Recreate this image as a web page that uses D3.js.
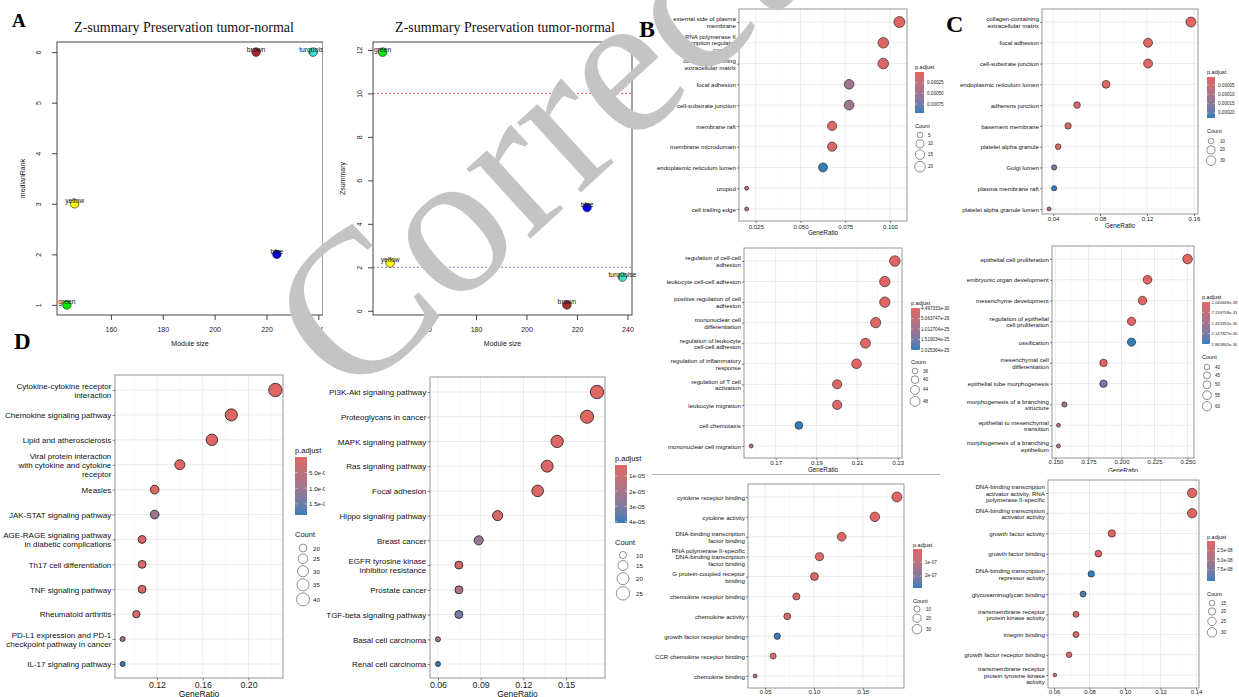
<!DOCTYPE html>
<html><head><meta charset="utf-8">
<script src="https://cdn.jsdelivr.net/npm/d3@7"></script>
<style>body{margin:0;background:#fff}svg{display:block}</style>
</head><body>
<svg id="fig" width="1239" height="697"></svg>
<script>
// ================= DATA =================
// Panel A : module preservation
const moduleNames = ["green", "yellow", "brown", "blue", "turquoise"];
const moduleSize = [143, 146, 216, 224, 238];
const medianRank = [1, 3, 6, 2, 6];
const zSummary = [11.9, 2.2, 0.27, 4.75, 1.55];
const moduleSizeTicks = [160, 180, 200, 220, 240];
const medianRankTicks = [1, 2, 3, 4, 5, 6];
const zSummaryTicks = [0, 2, 4, 6, 8, 10, 12];
const zThresholds = [10, 2];

// Panel B top : GO cellular component
const bTopTerms = ["external side of plasma\nmembrane", "RNA polymerase II\ntranscription regulator\ncomplex", "collagen-containing\nextracellular matrix", "focal adhesion", "cell-substrate junction", "membrane raft", "membrane microdomain", "endoplasmic reticulum lumen", "uropod", "cell trailing edge"];
const bTopRatio = [0.1053, 0.0963, 0.0963, 0.0772, 0.0772, 0.0677, 0.0677, 0.0626, 0.0199, 0.0199];
const bTopCount = [22, 20, 20, 16, 16, 14, 14, 13, 4, 4];
const bTopPadj = [1e-6, 2e-5, 3e-5, 4.8e-4, 4.9e-4, 6e-5, 7e-5, 9.6e-4, 3.5e-4, 3.5e-4];
const bTopXTicks = [0.025, 0.050, 0.075, 0.100];
const bTopPTicks = [0.00025, 0.00050, 0.00075];
const bTopCountTicks = [5, 10, 15, 20];

// Panel C top
const cTopTerms = ["collagen-containing\nextracellular matrix", "focal adhesion", "cell-substrate junction", "endoplasmic reticulum lumen", "adherens junction", "basement membrane", "platelet alpha granule", "Golgi lumen", "plasma membrane raft", "platelet alpha granule lumen"];
const cTopRatio = [0.1574, 0.1209, 0.1209, 0.0851, 0.0604, 0.0528, 0.0443, 0.0409, 0.0409, 0.0366];
const cTopCount = [34, 26, 26, 19, 13, 12, 10, 9, 9, 8];
const cTopPadj = [7e-6, 1e-5, 1.2e-5, 1.5e-5, 1.8e-5, 2.2e-5, 2.5e-5, 1.65e-4, 2.27e-4, 8e-5];
const cTopXTicks = [0.04, 0.08, 0.12, 0.16];
const cTopPTicks = [0.00005, 0.00010, 0.00015, 0.00020];
const cTopCountTicks = [10, 20, 30];

// Panel B middle : GO biological process
const bMidTerms = ["regulation of cell-cell\nadhesion", "leukocyte cell-cell adhesion", "positive regulation of cell\nadhesion", "mononuclear cell\ndifferentiation", "regulation of leukocyte\ncell-cell adhesion", "regulation of inflammatory\nresponse", "regulation of T cell\nactivation", "leukocyte migration", "cell chemotaxis", "mononuclear cell migration"];
const bMidRatio = [0.2285, 0.2236, 0.2236, 0.2191, 0.2141, 0.2097, 0.2002, 0.2002, 0.1814, 0.1580];
const bMidCount = [51, 50, 50, 49, 48, 47, 45, 45, 40, 35];
const bMidPadj = [4.497333e-30, 2e-29, 5e-29, 1e-28, 3e-28, 1e-27, 5e-27, 8e-27, 2.025364e-25, 7e-26];
const bMidXTicks = [0.17, 0.19, 0.21, 0.23];
const bMidPTicks = [4.497333e-30, 5.063747e-26, 1.012704e-25, 1.519034e-25, 2.025364e-25];
const bMidCountTicks = [36, 40, 44, 48];

// Panel C middle
const cMidTerms = ["epithelial cell proliferation", "embryonic organ development", "mesenchyme development", "regulation of epithelial\ncell proliferation", "ossification", "mesenchymal cell\ndifferentiation", "epithelial tube morphogenesis", "morphogenesis of a branching\nstructure", "epithelial to mesenchymal\ntransition", "morphogenesis of a branching\nepithelium"];
const cMidRatio = [0.250, 0.2197, 0.2159, 0.2076, 0.2076, 0.1864, 0.1864, 0.1568, 0.1523, 0.1523];
const cMidCount = [62, 55, 54, 52, 52, 47, 47, 39, 38, 38];
const cMidPadj = [1.040669e-38, 5e-38, 1e-36, 1e-34, 2.863902e-30, 1e-33, 2.2e-30, 1.4e-30, 9e-31, 9e-31];
const cMidXTicks = [0.150, 0.175, 0.200, 0.225, 0.250];
const cMidPTicks = [1.040669e-38, 7.159758e-31, 1.431951e-30, 2.147927e-30, 2.863902e-30];
const cMidCountTicks = [40, 45, 50, 55, 60];

// Panel B bottom : GO molecular function
const bBotTerms = ["cytokine receptor binding", "cytokine activity", "DNA-binding transcription\nfactor binding", "RNA polymerase II-specific\nDNA-binding transcription\nfactor binding", "G protein-coupled receptor\nbinding", "chemokine receptor binding", "chemokine activity", "growth factor receptor binding", "CCR chemokine receptor binding", "chemokine binding"];
const bBotRatio = [0.185, 0.1624, 0.1284, 0.1057, 0.1005, 0.082, 0.0727, 0.0624, 0.0582, 0.0397];
const bBotCount = [33, 29, 23, 19, 18, 14, 13, 11, 10, 7];
const bBotPadj = [7e-9, 1e-8, 1.5e-8, 2e-8, 2.5e-8, 2e-8, 3e-8, 2.86e-7, 3.5e-8, 1.3e-7];
const bBotXTicks = [0.05, 0.10, 0.15];
const bBotPTicks = [1e-7, 2e-7];
const bBotCountTicks = [10, 20, 30];

// Panel C bottom
const cBotTerms = ["DNA-binding transcription\nactivator activity, RNA\npolymerase II-specific", "DNA-binding transcription\nactivator activity", "growth factor activity", "growth factor binding", "DNA-binding transcription\nrepressor activity", "glycosaminoglycan binding", "transmembrane receptor\nprotein kinase activity", "integrin binding", "growth factor receptor binding", "transmembrane receptor\nprotein tyrosine kinase\nactivity"];
const cBotRatio = [0.1378, 0.1378, 0.0926, 0.085, 0.081, 0.0764, 0.0724, 0.0724, 0.0685, 0.0605];
const cBotCount = [30, 30, 20, 18, 17, 16, 16, 16, 15, 13];
const cBotPadj = [1e-10, 2e-10, 5e-10, 1e-9, 1.04e-7, 9.5e-8, 3e-9, 5e-9, 6e-9, 1e-8];
const cBotXTicks = [0.06, 0.08, 0.10, 0.12, 0.14];
const cBotPTicks = [2.5e-8, 5.0e-8, 7.5e-8];
const cBotCountTicks = [15, 20, 25, 30];

// Panel D left : KEGG
const dLeftTerms = ["Cytokine-cytokine receptor\ninteraction", "Chemokine signaling pathway", "Lipid and atherosclerosis", "Viral protein interaction\nwith cytokine and cytokine\nreceptor", "Measles", "JAK-STAT signaling pathway", "AGE-RAGE signaling pathway\nin diabetic complications", "Th17 cell differentiation", "TNF signaling pathway", "Rheumatoid arthritis", "PD-L1 expression and PD-1\ncheckpoint pathway in cancer", "IL-17 signaling pathway"];
const dLeftRatio = [0.2235, 0.185, 0.168, 0.140, 0.118, 0.118, 0.107, 0.107, 0.107, 0.102, 0.090, 0.090];
const dLeftCount = [42, 35, 32, 26, 22, 22, 20, 20, 20, 19, 17, 17];
const dLeftPadj = [1e-12, 1e-11, 5e-11, 2e-10, 5e-10, 1.05e-8, 8e-10, 1e-9, 1.2e-9, 1.5e-9, 7.5e-9, 1.855e-8];
const dLeftXTicks = [0.12, 0.16, 0.20];
const dLeftPTicks = [5e-9, 1e-8, 1.5e-8];
const dLeftCountTicks = [20, 25, 30, 35, 40];

// Panel D right : KEGG
const dRightTerms = ["PI3K-Akt signaling pathway", "Proteoglycans in cancer", "MAPK signaling pathway", "Ras signaling pathway", "Focal adhesion", "Hippo signaling pathway", "Breast cancer", "EGFR tyrosine kinase\ninhibitor resistance", "Prostate cancer", "TGF-beta signaling pathway", "Basal cell carcinoma", "Renal cell carcinoma"];
const dRightRatio = [0.1717, 0.1647, 0.1437, 0.1367, 0.130, 0.1019, 0.0886, 0.0747, 0.0747, 0.0747, 0.060, 0.060];
const dRightCount = [25, 24, 21, 20, 19, 15, 13, 11, 11, 11, 9, 9];
const dRightPadj = [2.8e-6, 3e-6, 3.5e-6, 4e-6, 4.5e-6, 5e-6, 2.4e-5, 5.5e-6, 1.8e-5, 3.2e-5, 1.9e-5, 4.1e-5];
const dRightXTicks = [0.06, 0.09, 0.12, 0.15];
const dRightPTicks = [1e-5, 2e-5, 3e-5, 4e-5];
const dRightCountTicks = [10, 15, 20, 25];

// ================= DRAWING =================
const svg = d3.select("#fig");
const defs = svg.append("defs");
const SANS = "'Liberation Sans', Arial, Helvetica, sans-serif";
const SERIF = "'Liberation Serif', 'Times New Roman', serif";
const LOW = "#e06663", HIGH = "#327eba";

const expand = (ext, f) => { const s = ext[1] - ext[0]; return [ext[0] - f * s, ext[1] + f * s]; };
const fmtExp = p => { const f = d3.format("." + p + "e"); return v => f(v).replace(/e([+-])(\d)$/, "e$10$2"); };

function clipGroup(id, x, y, w, h) {
  defs.append("clipPath").attr("id", id).append("rect").attr("x", x).attr("y", y).attr("width", w).attr("height", h);
  return svg.append("g").attr("clip-path", `url(#${id})`);
}

function multiline(sel, str, fs, lh) {
  const lines = str.split("\n");
  sel.text(null);
  lines.forEach((ln, i) => {
    sel.append("tspan").attr("x", sel.attr("x")).attr("dy", i === 0 ? (-(lines.length - 1) / 2 * lh + fs * 0.35) : lh).text(ln);
  });
}

function dotplot(id, D, L) {
  const g = L.clip ? clipGroup(id + "-clip", L.clip[0], L.clip[1], L.clip[2], L.clip[3]) : svg.append("g");
  const x = d3.scaleLinear().domain(expand(d3.extent(D.ratio), 0.05)).range([L.l, L.r]);
  const y = d3.scalePoint().domain(D.terms).range([L.y1, L.yN]);
  const pExt = d3.extent(D.padj);
  const color = d3.scaleLinear().domain(pExt).range([LOW, HIGH]).interpolate(d3.interpolateLab);
  const cExt = d3.extent(D.count);
  const tC = d3.scaleLinear().domain(cExt).range([0, 1]).clamp(true);
  const rOf = c => L.rMin + Math.sqrt(tC(c)) * (L.rMax - L.rMin);

  // panel
  g.append("rect").attr("x", L.l).attr("y", L.t).attr("width", L.r - L.l).attr("height", L.b - L.t).attr("fill", "#fff");
  const step = D.xTicks[1] - D.xTicks[0];
  const dom = x.domain();
  const minor = [D.xTicks[0] - step / 2].concat(D.xTicks.map(v => v + step / 2)).filter(v => v > dom[0] && v < dom[1]);
  g.selectAll(null).data(minor).join("line").attr("x1", x).attr("x2", x).attr("y1", L.t).attr("y2", L.b)
    .attr("stroke", "#f3f3f3").attr("stroke-width", 0.5);
  g.selectAll(null).data(D.xTicks).join("line").attr("x1", x).attr("x2", x).attr("y1", L.t).attr("y2", L.b)
    .attr("stroke", "#e6e6e6").attr("stroke-width", 0.8);
  g.selectAll(null).data(D.terms).join("line").attr("x1", L.l).attr("x2", L.r).attr("y1", y).attr("y2", y)
    .attr("stroke", "#e6e6e6").attr("stroke-width", 0.8);

  // points
  g.selectAll(null).data(D.terms.map((t, i) => ({ t, r: D.ratio[i], c: D.count[i], p: D.padj[i] })))
    .join("circle").attr("cx", d => x(d.r)).attr("cy", d => y(d.t)).attr("r", d => rOf(d.c))
    .attr("fill", d => color(d.p)).attr("stroke", "#1a1a1a").attr("stroke-width", L.pw);

  g.append("rect").attr("x", L.l).attr("y", L.t).attr("width", L.r - L.l).attr("height", L.b - L.t)
    .attr("fill", "none").attr("stroke", "#8a8a8a").attr("stroke-width", 0.9);

  // x axis
  const xa = g.append("g").attr("transform", `translate(0,${L.b})`)
    .call(d3.axisBottom(x).tickValues(D.xTicks).tickSize(L.tick).tickPadding(1).tickFormat(d3.format(D.xFmt)));
  xa.select(".domain").remove();
  xa.selectAll("line").attr("stroke", "#333").attr("stroke-width", 0.6);
  xa.selectAll("text").attr("y", null).attr("dy", null).attr("transform", null)
    .attr("y", L.xLabY - L.b).attr("dominant-baseline", "central")
    .attr("font-family", SANS).attr("font-size", L.xFont).attr("fill", "#222");
  g.append("text").attr("x", (L.l + L.r) / 2).attr("y", L.xTitleY).attr("dominant-baseline", "central")
    .attr("text-anchor", "middle").attr("font-family", SANS).attr("font-size", L.xTitleFont).attr("fill", "#111").text("GeneRatio");

  // y axis
  const ya = g.append("g").attr("transform", `translate(${L.l},0)`)
    .call(d3.axisLeft(y).tickSize(L.tick).tickPadding(1.2));
  ya.select(".domain").remove();
  ya.selectAll("line").attr("stroke", "#333").attr("stroke-width", 0.6);
  ya.selectAll(".tick text").attr("font-family", SANS).attr("font-size", L.yFont).attr("fill", "#111")
    .attr("dy", null).each(function (d) { multiline(d3.select(this), d, L.yFont, L.yFont * 1.1); });

  // legend
  const G = L.leg;
  g.append("text").attr("x", G.x).attr("y", G.titleY).attr("dominant-baseline", "central")
    .attr("font-family", SANS).attr("font-size", G.titleFont).attr("fill", "#111").text("p.adjust");
  const gid = id + "-grad";
  const grad = defs.append("linearGradient").attr("id", gid).attr("x1", 0).attr("y1", 0).attr("x2", 0).attr("y2", 1);
  d3.range(21).forEach(i => grad.append("stop").attr("offset", i / 20).attr("stop-color", color(pExt[0] + i / 20 * (pExt[1] - pExt[0]))));
  const pY = d3.scaleLinear().domain(pExt).range([G.barTop, G.barBottom]);
  g.append("rect").attr("x", G.x).attr("y", G.barTop).attr("width", G.barW).attr("height", G.barBottom - G.barTop).attr("fill", `url(#${gid})`);
  D.pTicks.forEach(v => {
    const yy = pY(v);
    g.append("line").attr("x1", G.x).attr("x2", G.x + G.barW / 5).attr("y1", yy).attr("y2", yy).attr("stroke", "#fff").attr("stroke-width", 0.5);
    g.append("line").attr("x1", G.x + G.barW * 4 / 5).attr("x2", G.x + G.barW).attr("y1", yy).attr("y2", yy).attr("stroke", "#fff").attr("stroke-width", 0.5);
    g.append("text").attr("x", G.labX).attr("y", yy).attr("dominant-baseline", "central")
      .attr("font-family", SANS).attr("font-size", G.pLabFont || G.labFont).attr("fill", "#222").text(D.pFmt(v));
  });
  g.append("text").attr("x", G.x).attr("y", G.countTitleY).attr("dominant-baseline", "central")
    .attr("font-family", SANS).attr("font-size", G.titleFont).attr("fill", "#111").text("Count");
  const kh = c => Math.max(G.minKey, 2 * rOf(c) + 2);
  let cy = G.c0;
  D.countTicks.forEach((c, i) => {
    if (i > 0) cy += (kh(D.countTicks[i - 1]) + kh(c)) / 2;
    g.append("circle").attr("cx", G.cx).attr("cy", cy).attr("r", rOf(c)).attr("fill", "#fff").attr("stroke", "#444").attr("stroke-width", 0.6);
    g.append("text").attr("x", G.clabX).attr("y", cy).attr("dominant-baseline", "central")
      .attr("font-family", SANS).attr("font-size", G.labFont).attr("fill", "#222").text(c);
  });
}

const smallB = { tick: 2, pw: 0.6, yFont: 6.1, xFont: 6, xTitleFont: 6.3 };
const smallLeg = { titleFont: 5.5, labFont: 4.6, minKey: 7.5 };
const bigD = { tick: 2.5, pw: 0.8, yFont: 8, xFont: 8.8, xTitleFont: 8.5 };
const bigLeg = { titleFont: 7.5, labFont: 6.2, minKey: 9 };

dotplot("bTop", { terms: bTopTerms, ratio: bTopRatio, count: bTopCount, padj: bTopPadj, xTicks: bTopXTicks, xFmt: ".3f", pTicks: bTopPTicks, pFmt: d3.format(".5f"), countTicks: bTopCountTicks },
  Object.assign({ l: 739, t: 9, r: 907, b: 221, y1: 22, yN: 209, xLabY: 227, xTitleY: 232.5, rMin: 2, rMax: 5.5,
    leg: Object.assign({ x: 915, titleY: 67, barTop: 72, barBottom: 113, barW: 9, labX: 927, countTitleY: 126, c0: 135, cx: 920, clabX: 928 }, smallLeg) }, smallB));

dotplot("cTop", { terms: cTopTerms, ratio: cTopRatio, count: cTopCount, padj: cTopPadj, xTicks: cTopXTicks, xFmt: ".2f", pTicks: cTopPTicks, pFmt: d3.format(".5f"), countTicks: cTopCountTicks },
  Object.assign({ l: 1042, t: 9, r: 1198, b: 214, y1: 22, yN: 209, xLabY: 219, xTitleY: 225, rMin: 2, rMax: 5,
    leg: Object.assign({ x: 1207, titleY: 72, barTop: 77, barBottom: 118, barW: 8, labX: 1218, countTitleY: 131, c0: 141, cx: 1211, clabX: 1220 }, smallLeg) }, smallB));

dotplot("bMid", { terms: bMidTerms, ratio: bMidRatio, count: bMidCount, padj: bMidPadj, xTicks: bMidXTicks, xFmt: ".2f", pTicks: bMidPTicks, pFmt: fmtExp(6), countTicks: bMidCountTicks },
  Object.assign({ l: 744, t: 248, r: 902, b: 458, y1: 261, yN: 446, xLabY: 462.5, xTitleY: 469, rMin: 2, rMax: 5.3,
    leg: Object.assign({ x: 911, titleY: 303, barTop: 308, barBottom: 350, barW: 9, labX: 921, countTitleY: 362, c0: 371, cx: 915, clabX: 923 }, smallLeg) }, smallB));

dotplot("cMid", { terms: cMidTerms, ratio: cMidRatio, count: cMidCount, padj: cMidPadj, xTicks: cMidXTicks, xFmt: ".3f", pTicks: cMidPTicks, pFmt: fmtExp(6), countTicks: cMidCountTicks },
  Object.assign({ l: 1052, t: 246, r: 1194, b: 458, y1: 259, yN: 446, xLabY: 462, xTitleY: 470, rMin: 2, rMax: 4.8, clip: [940, 236, 299, 236],
    leg: Object.assign({ x: 1202, titleY: 297, barTop: 302, barBottom: 344, barW: 8, labX: 1211.5, countTitleY: 357, c0: 367, cx: 1207, clabX: 1215 }, smallLeg, { pLabFont: 4.2 }) }, smallB));

dotplot("bBot", { terms: bBotTerms, ratio: bBotRatio, count: bBotCount, padj: bBotPadj, xTicks: bBotXTicks, xFmt: ".2f", pTicks: bBotPTicks, pFmt: fmtExp(0), countTicks: bBotCountTicks },
  Object.assign({ l: 748, t: 484, r: 904, b: 688, y1: 497, yN: 676, xLabY: 692, xTitleY: 699.5, rMin: 2, rMax: 5,
    leg: Object.assign({ x: 913, titleY: 545, barTop: 549, barBottom: 588, barW: 9, labX: 925, countTitleY: 601, c0: 609, cx: 917, clabX: 926 }, smallLeg) }, smallB));

dotplot("cBot", { terms: cBotTerms, ratio: cBotRatio, count: cBotCount, padj: cBotPadj, xTicks: cBotXTicks, xFmt: ".2f", pTicks: cBotPTicks, pFmt: fmtExp(1), countTicks: cBotCountTicks },
  Object.assign({ l: 1048, t: 480, r: 1199, b: 688, y1: 493, yN: 675, xLabY: 692, xTitleY: 699.5, rMin: 1.8, rMax: 4.7,
    leg: Object.assign({ x: 1207, titleY: 537, barTop: 541, barBottom: 581, barW: 8, labX: 1217, countTitleY: 594, c0: 603, cx: 1212, clabX: 1221 }, smallLeg) }, smallB));

dotplot("dLeft", { terms: dLeftTerms, ratio: dLeftRatio, count: dLeftCount, padj: dLeftPadj, xTicks: dLeftXTicks, xFmt: ".2f", pTicks: dLeftPTicks, pFmt: fmtExp(1), countTicks: dLeftCountTicks },
  Object.assign({ l: 115, t: 375, r: 283, b: 678, y1: 390, yN: 664, xLabY: 685, xTitleY: 694, rMin: 2.5, rMax: 6.7, clip: [0, 355, 325, 342],
    leg: Object.assign({ x: 295, titleY: 450, barTop: 457, barBottom: 515, barW: 12, labX: 309, countTitleY: 534, c0: 548, cx: 303, clabX: 313 }, bigLeg) }, bigD));

dotplot("dRight", { terms: dRightTerms, ratio: dRightRatio, count: dRightCount, padj: dRightPadj, xTicks: dRightXTicks, xFmt: ".2f", pTicks: dRightPTicks, pFmt: fmtExp(0), countTicks: dRightCountTicks },
  Object.assign({ l: 430, t: 377, r: 605, b: 678, y1: 392, yN: 664, xLabY: 685, xTitleY: 694, rMin: 2.5, rMax: 6.7,
    leg: Object.assign({ x: 615, titleY: 458, barTop: 465, barBottom: 523, barW: 12, labX: 629, countTitleY: 542, c0: 555, cx: 623, clabX: 636 }, bigLeg) }, bigD));

// separator line
svg.append("line").attr("x1", 652).attr("x2", 940).attr("y1", 474.5).attr("y2", 474.5).attr("stroke", "#b5b5b5").attr("stroke-width", 1);

// ---------- Panel A ----------
const moduleColour = d3.scaleOrdinal().domain(moduleNames).range(["#00ee00", "#ffff00", "#a52a2a", "#0000ff", "#40e0d0"]);

function modulePlot(id, yVals, yTicks, yTitle, L) {
  const g = L.clip ? clipGroup(id + "-clip", L.clip[0], L.clip[1], L.clip[2], L.clip[3]) : svg.append("g");
  const x = d3.scaleLinear().domain(expand(d3.extent(moduleSize), 0.04)).range([L.l, L.r]);
  const y = d3.scaleLinear().domain(expand(d3.extent(yVals), 0.04)).range([L.b, L.t]);
  g.append("text").attr("x", L.titleX).attr("y", 27).attr("dominant-baseline", "central").attr("text-anchor", "middle")
    .attr("font-family", SERIF).attr("font-size", 14).attr("fill", "#111").text("Z-summary Preservation tumor-normal");
  (L.hlines || []).forEach(h => {
    g.append("line").attr("x1", L.l).attr("x2", L.r).attr("y1", y(h.v)).attr("y2", y(h.v))
      .attr("stroke", h.c).attr("stroke-width", 1.1).attr("stroke-dasharray", "2,2");
  });
  g.selectAll(null).data(moduleNames.map((m, i) => ({ m, x: moduleSize[i], y: yVals[i] }))).join("circle")
    .attr("cx", d => x(d.x)).attr("cy", d => y(d.y)).attr("r", 4.3)
    .attr("fill", d => moduleColour(d.m)).attr("stroke", "#333").attr("stroke-width", 0.7);
  g.selectAll(null).data(moduleNames.map((m, i) => ({ m, x: moduleSize[i], y: yVals[i] }))).join("text")
    .attr("x", d => x(d.x)).attr("y", d => y(d.y) - 3).attr("dominant-baseline", "central").attr("text-anchor", "middle")
    .attr("font-family", SANS).attr("font-size", 6.8).attr("fill", "#111").text(d => d.m);
  g.append("rect").attr("x", L.l).attr("y", L.t).attr("width", L.r - L.l).attr("height", L.b - L.t)
    .attr("fill", "none").attr("stroke", "#444").attr("stroke-width", 1);
  const xa = g.append("g").attr("transform", `translate(0,${L.b})`)
    .call(d3.axisBottom(x).tickValues(moduleSizeTicks).tickSize(5).tickFormat(d3.format("d")));
  xa.select(".domain").remove();
  xa.selectAll("line").attr("stroke", "#444");
  xa.selectAll("text").attr("y", 329 - L.b).attr("dy", null).attr("dominant-baseline", "central")
    .attr("font-family", SANS).attr("font-size", 7).attr("fill", "#222");
  const ya = g.append("g").attr("transform", `translate(${L.l},0)`)
    .call(d3.axisLeft(y).tickValues(yTicks).tickSize(5).tickFormat(d3.format("d")));
  ya.select(".domain").remove();
  ya.selectAll("line").attr("stroke", "#444");
  ya.selectAll("text").attr("x", null).attr("dy", null).attr("text-anchor", "middle")
    .attr("transform", `translate(${-L.yLabOff},0) rotate(-90)`).attr("dominant-baseline", "central")
    .attr("font-family", SANS).attr("font-size", 7).attr("fill", "#222");
  g.append("text").attr("x", (L.l + L.r) / 2).attr("y", 343).attr("dominant-baseline", "central").attr("text-anchor", "middle")
    .attr("font-family", SANS).attr("font-size", 7).attr("fill", "#111").text("Module size");
  g.append("text").attr("transform", `translate(${L.yTitleX},${(L.t + L.b) / 2}) rotate(-90)`).attr("dominant-baseline", "central")
    .attr("text-anchor", "middle").attr("font-family", SANS).attr("font-size", 7).attr("fill", "#111").text(yTitle);
}

modulePlot("aLeft", medianRank, medianRankTicks, "medianRank",
  { l: 57, t: 42, r: 323, b: 315, titleX: 184, yLabOff: 19, yTitleX: 22, clip: [0, 0, 323, 355] });
modulePlot("aRight", zSummary, zSummaryTicks, "Zsummary",
  { l: 373, t: 42, r: 632, b: 315, titleX: 505, yLabOff: 14, yTitleX: 342,
    hlines: [{ v: zThresholds[0], c: "#f06a6a" }, { v: zThresholds[1], c: "#7c7cc4" }] });

// ---------- panel letters ----------
[["A", 12, 27, 19], ["B", 639, 37, 24], ["C", 946, 32, 24], ["D", 14, 349, 23]].forEach(([t, x, y, fs]) => {
  svg.append("text").attr("x", x).attr("y", y).attr("font-family", SERIF).attr("font-weight", "bold")
    .attr("font-size", fs).attr("fill", "#000").text(t);
});

// ---------- watermark ----------
svg.append("text").attr("transform", "translate(350,404) rotate(-42.5)")
  .attr("font-family", SERIF).attr("font-size", 206).attr("fill", "#c4c4c4").text("Corrected");
</script>
</body></html>
